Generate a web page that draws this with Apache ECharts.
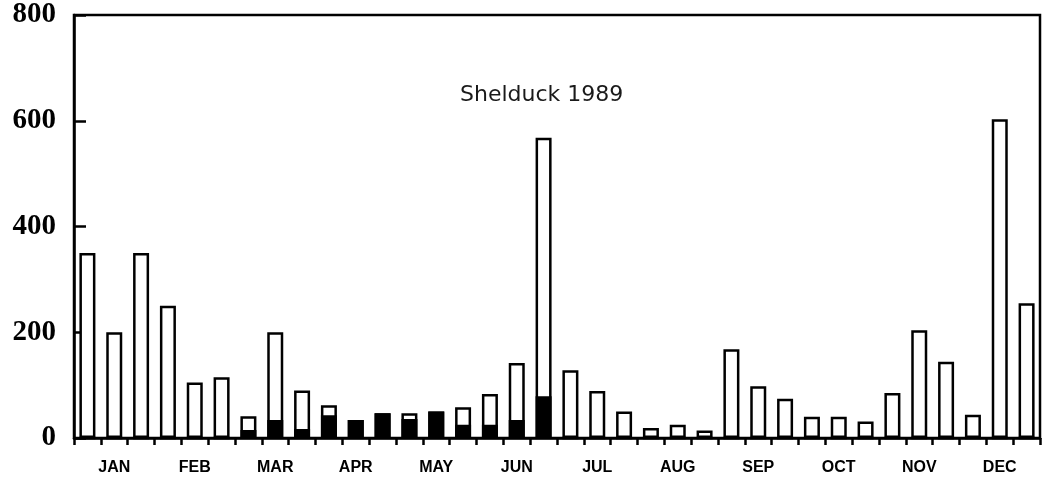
<!DOCTYPE html>
<html>
<head>
<meta charset="utf-8">
<script src="https://cdn.jsdelivr.net/npm/echarts@6/dist/echarts.min.js"></script>
<style>
  html, body { margin: 0; padding: 0; background: #fff; }
  #chart { width: 1043px; height: 483px; }
</style>
</head>
<body>
<div id="chart"></div>
<script>
// Month labels (one per 3 survey counts, shown under the middle bar)
const months = ['JAN','FEB','MAR','APR','MAY','JUN','JUL','AUG','SEP','OCT','NOV','DEC'];
// 36 survey counts, three per month
const categories = [
  'JAN-1','JAN-2','JAN-3','FEB-1','FEB-2','FEB-3','MAR-1','MAR-2','MAR-3',
  'APR-1','APR-2','APR-3','MAY-1','MAY-2','MAY-3','JUN-1','JUN-2','JUN-3',
  'JUL-1','JUL-2','JUL-3','AUG-1','AUG-2','AUG-3','SEP-1','SEP-2','SEP-3',
  'OCT-1','OCT-2','OCT-3','NOV-1','NOV-2','NOV-3','DEC-1','DEC-2','DEC-3'
];
// Total count (full bar height, open bar)
const totalCounts = [
  350, 200, 350, 250, 105, 115, 41, 200, 90,
  62, 34, 47, 47, 50, 58, 83, 142, 568,
  128, 89, 50, 19, 25, 14, 168, 98, 74,
  40, 40, 31, 85, 204, 144, 44, 603, 255
];
// Filled (black) part of each bar
const darkCounts = [
  0, 0, 0, 0, 0, 0, 15, 34, 17,
  43, 34, 47, 36, 50, 25, 25, 34, 79,
  0, 0, 0, 0, 0, 0, 0, 0, 0,
  0, 0, 0, 0, 0, 0, 0, 0, 0
];
const yTicks = [0, 200, 400, 600, 800];

const chart = echarts.init(document.getElementById('chart'), null, { renderer: 'canvas' });
chart.setOption({
  backgroundColor: '#ffffff',
  animation: false,
  title: {
    text: 'Shelduck 1989',
    left: 460,
    top: 84,
    padding: 0,
    textStyle: { fontFamily: 'DejaVu Sans', fontSize: 22, fontWeight: 'normal', color: '#1a1a1a' }
  },
  grid: {
    left: 74, right: 3, top: 15, bottom: 45,
    show: true, borderColor: '#000', borderWidth: 2.5, backgroundColor: 'transparent'
  },
  xAxis: {
    type: 'category',
    data: categories,
    boundaryGap: true,
    axisLine: { show: true, lineStyle: { color: '#000', width: 2.5 } },
    axisTick: { show: true, interval: 0, length: 7, inside: false, lineStyle: { color: '#000', width: 2.5 } },
    axisLabel: {
      interval: function (idx) { return idx % 3 === 1; },
      formatter: function (v) { return months[Math.floor(categories.indexOf(v) / 3)]; },
      margin: 22,
      fontFamily: 'Liberation Sans',
      fontWeight: 'bold',
      fontSize: 16,
      color: '#000'
    },
    splitLine: { show: false }
  },
  yAxis: {
    type: 'value',
    min: yTicks[0],
    max: yTicks[yTicks.length - 1],
    interval: yTicks[1] - yTicks[0],
    axisLine: { show: true, lineStyle: { color: '#000', width: 2.5 } },
    axisTick: { show: true, inside: true, length: 12, lineStyle: { color: '#000', width: 2.5 } },
    axisLabel: {
      margin: 18,
      fontFamily: 'Liberation Serif',
      fontWeight: 'bold',
      fontSize: 29,
      color: '#000'
    },
    splitLine: { show: false }
  },
  series: [
    {
      name: 'Total',
      type: 'bar',
      data: totalCounts,
      barWidth: 16,
      itemStyle: { color: '#ffffff', borderColor: '#000', borderWidth: 2.5 },
      z: 2
    },
    {
      name: 'Filled',
      type: 'bar',
      data: darkCounts,
      barWidth: 16,
      barGap: '-100%',
      itemStyle: { color: '#000', borderColor: '#000', borderWidth: 2.5 },
      z: 3
    }
  ]
});
</script>
</body>
</html>
